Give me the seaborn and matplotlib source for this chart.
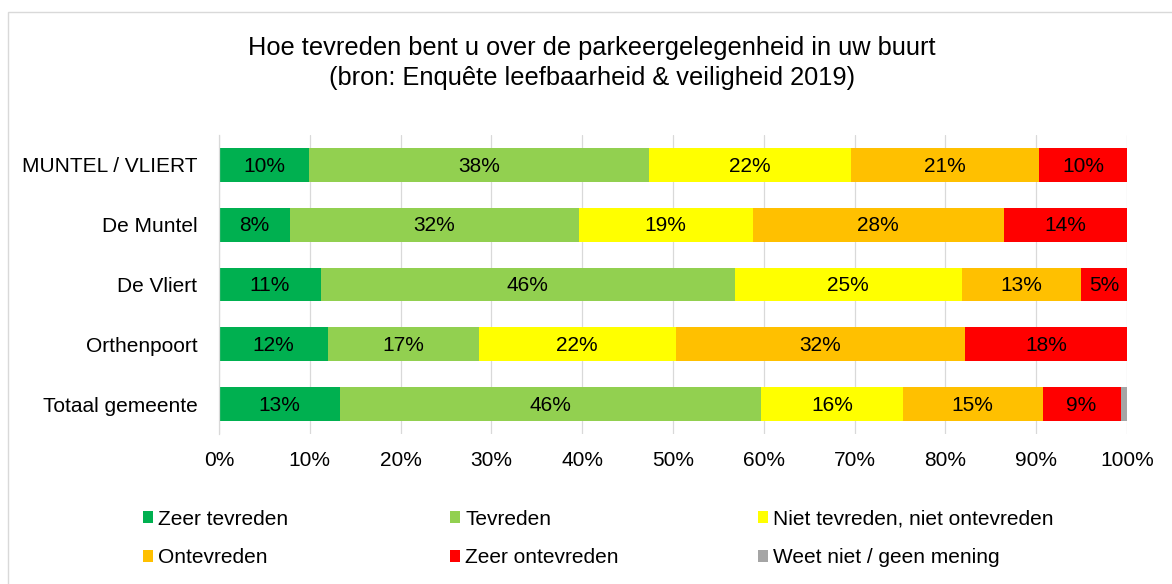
import numpy as np
import pandas as pd
import matplotlib.pyplot as plt
from matplotlib.patches import Patch, Rectangle
import seaborn as sns

# data (percentages per area)
regions = ['MUNTEL / VLIERT', 'De Muntel', 'De Vliert', 'Orthenpoort', 'Totaal gemeente']
series_names = ['Zeer tevreden', 'Tevreden', 'Niet tevreden, niet ontevreden',
                'Ontevreden', 'Zeer ontevreden', 'Weet niet / geen mening']
zeer_tevreden = [9.9, 7.8, 11.2, 12.0, 13.3]
tevreden = [37.5, 31.8, 45.6, 16.6, 46.4]
neutraal = [22.2, 19.2, 25.0, 21.7, 15.6]
ontevreden = [20.7, 27.6, 13.1, 31.9, 15.4]
zeer_ontevreden = [9.7, 13.6, 5.1, 17.8, 8.6]
weet_niet = [0.0, 0.0, 0.0, 0.0, 0.7]
colors = ['#00B050', '#92D050', '#FFFF00', '#FFC000', '#FF0000', '#A5A5A5']

df = pd.DataFrame({'Gebied': regions,
                   series_names[0]: zeer_tevreden,
                   series_names[1]: tevreden,
                   series_names[2]: neutraal,
                   series_names[3]: ontevreden,
                   series_names[4]: zeer_ontevreden,
                   series_names[5]: weet_niet})
vals = df[series_names].to_numpy()
cum = vals.cumsum(axis=1)
starts = cum - vals

sns.set_style('white')
plt.rcParams['font.family'] = ['Liberation Sans', 'DejaVu Sans']
plt.rcParams['text.color'] = 'black'
plt.rcParams['xtick.color'] = 'black'
plt.rcParams['ytick.color'] = 'black'

W, H = 1172, 584
fig = plt.figure(figsize=(W / 100, H / 100), dpi=100)
ax = fig.add_axes([219 / W, (H - 434) / H, 908 / W, 299 / H])

# draw cumulative bars from the back so earlier series sit on top
for j in range(len(series_names) - 1, -1, -1):
    sns.barplot(x=cum[:, j], y=df['Gebied'], color=colors[j], orient='h',
                width=0.565, saturation=1, linewidth=0, errorbar=None, ax=ax, zorder=2)

# segment labels
for i in range(len(regions)):
    for j in range(len(series_names)):
        v = vals[i, j]
        if v >= 2:
            ax.text(starts[i, j] + v / 2, i + 0.02, f'{int(v + 0.5)}%', ha='center', va='center',
                    fontsize=15, color='black', zorder=3)

ax.set_xlim(0, 100)
ax.set_ylim(len(regions) - 0.5, -0.5)
ticks = np.arange(0, 101, 10)
ax.set_xticks(ticks)
ax.set_xticklabels([f'{t}%' for t in ticks])
ax.set_xlabel('')
ax.set_ylabel('')
ax.tick_params(axis='x', length=0, pad=12, labelsize=15, labelcolor='black')
ax.tick_params(axis='y', length=0, pad=15.5, labelsize=15, labelcolor='black')
ax.xaxis.grid(True, color='#D9D9D9', linewidth=0.9, zorder=0)
ax.yaxis.grid(False)
ax.set_axisbelow(True)
for s in ['top', 'right', 'bottom']:
    ax.spines[s].set_visible(False)
ax.spines['left'].set_color('#D9D9D9')
ax.spines['left'].set_linewidth(0.9)

# title
fig.text(592 / W, (H - 63) / H,
         'Hoe tevreden bent u over de parkeergelegenheid in uw buurt\n(bron: Enquête leefbaarheid & veiligheid 2019)',
         ha='center', va='center', fontsize=18.3, linespacing=1.3, color='black')

# legend in three columns of two entries
handles = [Patch(facecolor=c, edgecolor='none') for c in colors]
col_x = [143, 450, 758]
for k in range(3):
    idx = [k, k + 3]
    leg = fig.legend([handles[m] for m in idx], [series_names[m] for m in idx],
                     loc='center left', bbox_to_anchor=(col_x[k] / W, (H - 538.5) / H),
                     frameon=False, fontsize=15, borderpad=0, borderaxespad=0,
                     handlelength=0.48, handleheight=0.48, handletextpad=0.25,
                     labelspacing=0.95)
    for t in leg.get_texts():
        t.set_color('black')

# chart border
fig.add_artist(Rectangle((8 / W, -0.1), 1.2, (H - 12) / H + 0.1, fill=False,
                         edgecolor='#D9D9D9', linewidth=1, transform=fig.transFigure))

plt.savefig('out.png', dpi=100)
